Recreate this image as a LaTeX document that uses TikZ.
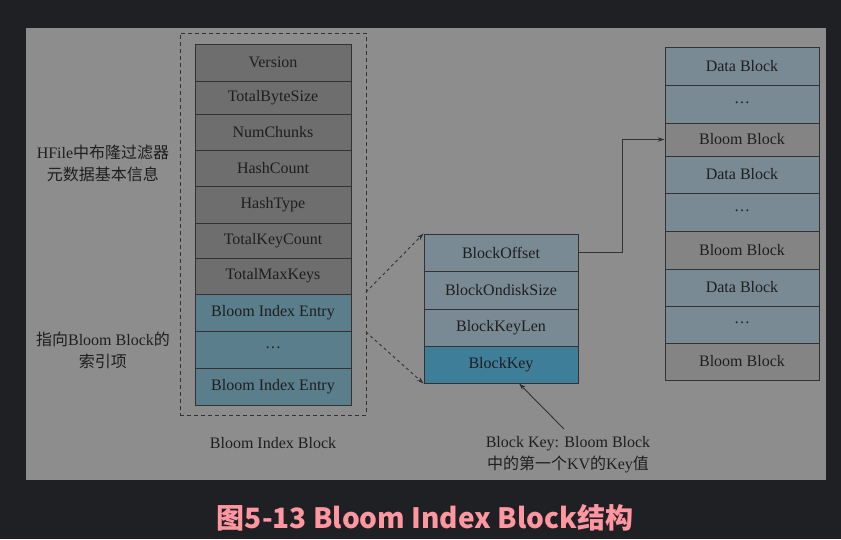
\documentclass[tikz,border=0pt]{standalone}
\usepackage{fontspec}
\setmainfont{Liberation Serif}
\newfontfamily\cjk{Noto Sans CJK SC}
\usetikzlibrary{arrows.meta}
\definecolor{bgdark}{RGB}{31,32,35}
\definecolor{panel}{RGB}{141,141,141}
\definecolor{rowgray}{RGB}{110,110,110}
\definecolor{rowblue}{RGB}{90,126,140}
\definecolor{rowlight}{RGB}{122,138,148}
\definecolor{rowkey}{RGB}{62,126,152}
\definecolor{rowbloom}{RGB}{132,132,132}
\definecolor{edge}{RGB}{50,50,50}
\definecolor{ink}{RGB}{30,30,30}
\definecolor{capcol}{RGB}{255,150,160}
\newcommand\zh[1]{{\cjk\fontsize{16}{22}\selectfont #1}}
\tikzset{
  cell/.style={draw=edge, line width=0.9pt, text=ink, inner sep=0pt,
    font=\fontsize{16}{19}\selectfont},
  lcell/.style={cell, minimum width=156pt},
  mcell/.style={cell, minimum width=154pt},
  rcell/.style={cell, minimum width=154pt},
  lbl/.style={text=ink, align=center, font=\fontsize{16}{22}\selectfont},
  dash box/.style={draw=edge, line width=0.9pt, dash pattern=on 4pt off 3pt},
  darr/.style={draw=edge, line width=0.9pt, dash pattern=on 3pt off 3pt,
    -{Stealth[length=7pt,width=4.5pt]}},
  sarr/.style={draw=edge, line width=0.9pt, -{Stealth[length=7pt,width=4.5pt]}}
}
\begin{document}
\begin{tikzpicture}[x=1pt,y=-1pt]
\useasboundingbox (0,0) rectangle (841,539);
\fill[bgdark] (0,0) rectangle (841,539);
\fill[panel] (26,28) rectangle (826,480);

% dashed Bloom Index Block frame
\node[dash box, minimum width=186pt, minimum height=382pt, inner sep=0pt] (ibox) at (273,224) {};

% left column
\node[lcell, fill=rowgray, minimum height=37pt] (ver) at (273,62.5) {Version};
\node[lcell, fill=rowgray, minimum height=33pt] (tbs) at (273,97.5) {TotalByteSize};
\node[lcell, fill=rowgray, minimum height=36pt] (nch) at (273,132) {NumChunks};
\node[lcell, fill=rowgray, minimum height=36pt] (hc) at (273,168) {HashCount};
\node[lcell, fill=rowgray, minimum height=37pt] (ht) at (273,204.5) {HashType};
\node[lcell, fill=rowgray, minimum height=35pt] (tkc) at (273,240.5) {TotalKeyCount};
\node[lcell, fill=rowgray, minimum height=36pt] (tmk) at (273,276) {TotalMaxKeys};
\node[lcell, fill=rowblue, minimum height=37pt] (bie1) at (273,312.5) {Bloom Index Entry};
\node[lcell, fill=rowblue, minimum height=37pt] (bied) at (273,349.5) {\raisebox{3pt}{\dots}};
\node[lcell, fill=rowblue, minimum height=37pt] (bie2) at (273,386.5) {Bloom Index Entry};

% middle column
\node[mcell, fill=rowlight, minimum height=37pt] (off) at (501,252.5) {BlockOffset};
\node[mcell, fill=rowlight, minimum height=38pt] (ods) at (501,290) {BlockOndiskSize};
\node[mcell, fill=rowlight, minimum height=37pt] (kl) at (501,327.5) {BlockKeyLen};
\node[mcell, fill=rowkey, minimum height=37pt] (key) at (501,364.5) {BlockKey};

% right column
\node[rcell, fill=rowlight, minimum height=38pt] (db1) at (742,66) {Data Block};
\node[rcell, fill=rowlight, minimum height=38pt] (dd1) at (742,104) {\raisebox{3pt}{\dots}};
\node[rcell, fill=rowbloom, minimum height=33pt] (bb1) at (742,139.5) {Bloom Block};
\node[rcell, fill=rowlight, minimum height=37pt] (db2) at (742,174.5) {Data Block};
\node[rcell, fill=rowlight, minimum height=38pt] (dd2) at (742,212) {\raisebox{3pt}{\dots}};
\node[rcell, fill=rowbloom, minimum height=38pt] (bb2) at (742,250) {Bloom Block};
\node[rcell, fill=rowlight, minimum height=37pt] (db3) at (742,287.5) {Data Block};
\node[rcell, fill=rowlight, minimum height=37pt] (dd3) at (742,324.5) {\raisebox{3pt}{\dots}};
\node[rcell, fill=rowbloom, minimum height=37pt] (bb3) at (742,361.5) {Bloom Block};

% labels
\node[lbl] (lab1) at (103,163) {HFile\zh{中布隆过滤器}\\\zh{元数据基本信息}};
\node[lbl] (lab2) at (103,350) {\zh{指向}Bloom Block\zh{的}\\\zh{索引项}};
\node[lbl] (lab3) at (273,443) {Bloom Index Block};
\node[lbl] (ann) at (568,455) {Block Key: Bloom Block\\\zh{中的第一个}KV\zh{的}Key\zh{值}};

% connectors
\coordinate (s1) at (366,292);
\coordinate (s2) at (366,332);
\draw[darr] (s1) -- (off.north west);
\draw[darr] (s2) -- (key.south west);
\draw[sarr] (off.east) -- ++(44,0) |- (bb1.west);
\coordinate (a0) at (564,429);
\coordinate (a1) at (519,383.5);
\draw[sarr] (a0) -- (a1);

% caption
\node[text=capcol, font=\cjk\bfseries\fontsize{28}{32}\selectfont] (cap) at (425,518) {图5-13 Bloom Index Block结构};
\end{tikzpicture}
\end{document}
